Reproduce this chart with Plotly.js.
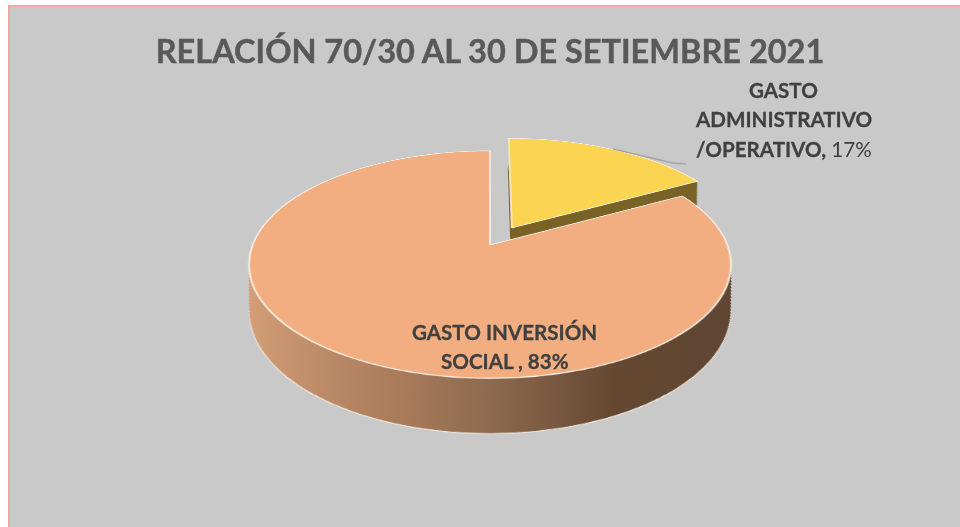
<!DOCTYPE html>
<html><head><meta charset="utf-8">
<script src="https://cdn.plot.ly/plotly-3.0.1.min.js"></script>
<style>
html,body{margin:0;padding:0;background:#fff;width:960px;height:527px;overflow:hidden}
#frame{position:absolute;left:8px;top:5px;width:952px;height:522px;box-sizing:border-box;background:#c9c9c9;border-left:2px solid #f4a6a6;border-top:2px solid #f4a6a6}
#chart{position:absolute;left:0;top:0;width:960px;height:527px}
.gtitle{stroke:#595959;stroke-width:.45px}
.annotation-text tspan[style*="bold"]{stroke:#404040;stroke-width:.3px}
</style></head><body>
<div id="frame"></div><div id="chart"></div>
<script>
const categories = ['GASTO ADMINISTRATIVO /OPERATIVO', 'GASTO INVERSIÓN SOCIAL'];
const values = [17, 83];
const pulls = [0.185, 0];
const topColors = ['#fbd452', '#f2ae80'];
const wallColors = ['#7a6326', '#a87a5a'];
const titleText = 'RELACIÓN 70/30 AL 30 DE SETIEMBRE 2021';
const labelLines = [
  ['<b>GASTO</b>', 783, 90],
  ['<b>ADMINISTRATIVO</b>', 783, 119],
  ['<b>/OPERATIVO,</b> 17%', 784, 149],
  ['<b>GASTO INVERSIÓN</b>', 505, 332],
  ['<b>SOCIAL , 83%</b>', 505, 361]
];
const W = 960, H = 527;
const LAYERS = 70, PLANE_DEPTH = 87, SHRINK = 0.07;
const FONT = 'Lato, "Open Sans", sans-serif';

const traces = [];
for (let i = LAYERS; i >= 0; i--) {
  const isTop = i === 0, isBottom = i === LAYERS;
  traces.push({
    type: 'pie', labels: categories, values: values, pull: pulls, sort: false,
    direction: 'clockwise', rotation: 0, textinfo: 'none', hoverinfo: 'skip', showlegend: false,
    marker: {
      colors: isTop ? topColors : wallColors,
      line: {color: isTop || isBottom ? '#f7f1e6' : 'rgba(0,0,0,0)', width: isTop ? 1.6 : (isBottom ? 1.2 : 0)}
    }
  });
}
const layout = {
  width: W, height: H, margin: {l:0, r:0, t:0, b:0, pad:0},
  paper_bgcolor: 'rgba(0,0,0,0)', plot_bgcolor: 'rgba(0,0,0,0)',
  font: {family: FONT},
  title: {text: '<b>'+titleText+'</b>', x: 490/W, xanchor: 'center', xref:'paper', yref:'paper', y: 1-52/H, yanchor:'middle',
    font: {family: FONT, size: 32.5, color: '#595959'}, automargin:false},
  annotations: labelLines.map(l => ({text: l[0], x: l[1]/W, y: 1-l[2]/H, xref:'paper', yref:'paper',
    xanchor:'center', yanchor:'middle', showarrow:false, font:{family:FONT, size:20.6, color:'#404040'}})),
  shapes: [{type:'path', xref:'paper', yref:'paper', layer:'above',
    path: 'M '+613/W+' '+(1-149/H)+' L '+673/W+' '+(1-163/H)+' L '+686/W+' '+(1-164/H),
    line:{color:'#a6a6a6', width:1.5}}]
};
Plotly.newPlot('chart', traces, layout, {displayModeBar:false, staticPlot:true}).then(gd => {
  const svg = gd.querySelector('.main-svg');
  svg.style.overflow = 'visible';
  const cx = W/2, cy = H/2;
  svg.style.transformOrigin = cx+'px '+cy+'px';
  svg.style.transform = 'translate(10px,-18.5px) perspective(1222px) rotateX(62.3deg) scale(1.0675)';
  const ns = 'http://www.w3.org/2000/svg';
  let defs = svg.querySelector('defs');
  const grad = document.createElementNS(ns, 'linearGradient');
  grad.setAttribute('id', 'wallGrad');
  [[0,'#d6a079'],[0.35,'#a87a5a'],[0.5,'#8d6a4f'],[0.72,'#644832'],[1,'#5f4633']].forEach(s => {
    const st = document.createElementNS(ns,'stop');
    st.setAttribute('offset', s[0]); st.setAttribute('stop-color', s[1]); grad.appendChild(st);
  });
  defs.appendChild(grad);
  const groups = svg.querySelectorAll('.pielayer .trace');
  groups.forEach((g, idx) => {
    const layer = LAYERS - idx;
    const t = PLANE_DEPTH * layer / LAYERS, sc = 1 - SHRINK * layer / LAYERS;
    g.setAttribute('transform', 'translate('+cx+','+(cy+t)+') scale('+sc+') translate('+(-cx)+','+(-cy)+')');
    if (layer > 0) {
      const paths = g.querySelectorAll('path.surface');
      if (paths[1]) paths[1].style.fill = 'url(#wallGrad)';
    }
  });
});
</script>
</body></html>
